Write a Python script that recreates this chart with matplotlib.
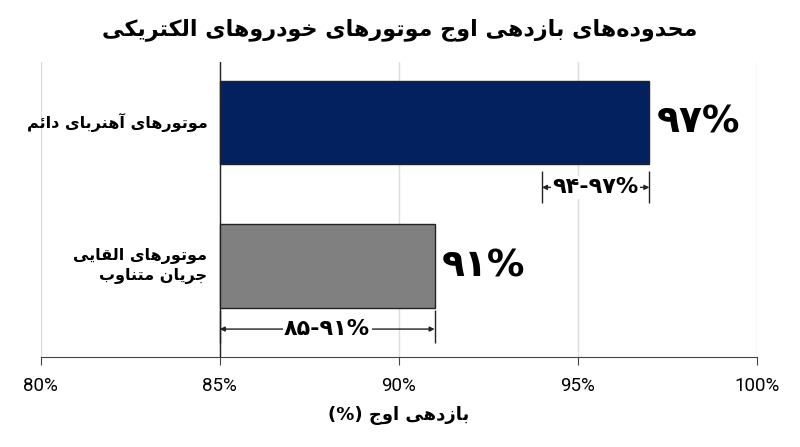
import numpy as np
import matplotlib
matplotlib.use('Agg')
import matplotlib.pyplot as plt

# data
categories = ['موتورهای آهنربای دائم', 'موتورهای القایی\nجریان متناوب']
peak_eff = [97, 91]
range_lo = [94, 85]
range_hi = [97, 91]
base = 85
bar_colors = ['#03215f', '#808080']
title = 'محدوده‌های بازدهی اوج موتورهای خودروهای الکتریکی'
xlabel = 'بازدهی اوج (%)'
xticks = [80, 85, 90, 95, 100]

# minimal arabic/persian shaping (no reshaper libs available)
FORMS = {
    'ا': (0xFE8D, 0xFE8E), 'آ': (0xFE81, 0xFE82),
    'ب': (0xFE8F, 0xFE90, 0xFE91, 0xFE92), 'ت': (0xFE95, 0xFE96, 0xFE97, 0xFE98),
    'ج': (0xFE9D, 0xFE9E, 0xFE9F, 0xFEA0), 'ح': (0xFEA1, 0xFEA2, 0xFEA3, 0xFEA4),
    'خ': (0xFEA5, 0xFEA6, 0xFEA7, 0xFEA8), 'د': (0xFEA9, 0xFEAA),
    'ر': (0xFEAD, 0xFEAE), 'ز': (0xFEAF, 0xFEB0),
    'ق': (0xFED5, 0xFED6, 0xFED7, 0xFED8), 'ل': (0xFEDD, 0xFEDE, 0xFEDF, 0xFEE0),
    'م': (0xFEE1, 0xFEE2, 0xFEE3, 0xFEE4), 'ن': (0xFEE5, 0xFEE6, 0xFEE7, 0xFEE8),
    'ه': (0xFEE9, 0xFEEA, 0xFEEB, 0xFEEC), 'و': (0xFEED, 0xFEEE),
    'ئ': (0xFE89, 0xFE8A, 0xFE8B, 0xFE8C), 'ی': (0xFBFC, 0xFBFD, 0xFBFE, 0xFBFF),
    'ک': (0xFB8E, 0xFB8F, 0xFB90, 0xFB91),
}
MIRROR = {'(': ')', ')': '('}


def shape_line(s):
    out = []
    for i, c in enumerate(s):
        if c not in FORMS:
            if c != '\u200c':
                out.append(c)
            continue
        f = FORMS[c]
        prev = s[i-1] if i > 0 else None
        nxt = s[i+1] if i + 1 < len(s) else None
        jp = prev in FORMS and len(FORMS[prev]) == 4
        jn = len(f) == 4 and nxt in FORMS
        if jp and jn:
            out.append(chr(f[3]))
        elif jp:
            out.append(chr(f[1]))
        elif jn:
            out.append(chr(f[2]))
        else:
            out.append(chr(f[0]))
    return ''.join(MIRROR.get(c, c) for c in reversed(out))


def fa(s):
    return '\n'.join(shape_line(l) for l in s.split('\n'))


def fa_num(s):
    return s.translate(str.maketrans('0123456789', '۰۱۲۳۴۵۶۷۸۹'))


ar_font = ['DejaVu Sans']

fig = plt.figure(figsize=(8, 4.47), dpi=100)
ax = fig.add_axes([0.051, 0.201, 0.895, 0.660])

ypos = np.array([1, 0])
widths = np.array(peak_eff) - base
ax.barh(ypos, widths, left=base, height=0.58, color=bar_colors,
        edgecolor='#222222', linewidth=1, zorder=3)

ax.set_xlim(80, 100)
ax.set_ylim(-0.636, 1.423)
ax.set_xticks(xticks)
ax.set_xticklabels([f'{t}%' for t in xticks], fontsize=13.5, family='Roboto')
ax.set_yticks([])
ax.grid(axis='x', color='#dddddd', linewidth=1, zorder=0)
ax.axvline(base, color='#222222', linewidth=1, zorder=2)
for sp in ['top', 'left', 'right']:
    ax.spines[sp].set_visible(False)
ax.spines['bottom'].set_color('#444444')
ax.tick_params(axis='x', length=6, color='#444444', pad=8)

# category labels
for y, cat in zip(ypos, categories):
    ax.text(84.65, y, fa(cat), ha='right', va='center', fontsize=11.5,
            fontweight='bold', family=ar_font, linespacing=1.35)

# peak value labels
for y, v in zip(ypos, peak_eff):
    ax.text(v + 0.2, y, fa_num(f'{v}%'), ha='left', va='center',
            fontsize=27, fontweight='bold', family=ar_font)

# range brackets
bracket = [(0.66, 0.44, 0.549), (-0.31, -0.54, -0.44)]
for (y0, y1, ya), lo, hi in zip(bracket, range_lo, range_hi):
    ax.vlines([lo, hi], y1, y0, color='#222222', linewidth=1, zorder=4)
    ax.annotate('', xy=(lo, ya), xytext=(hi, ya),
                arrowprops=dict(arrowstyle='<|-|>', color='#222222', lw=1,
                                mutation_scale=7, shrinkA=0, shrinkB=0), zorder=4)
    ax.text((lo + hi) / 2, ya, fa_num(f'{lo}-{hi}%'), ha='center', va='center',
            fontsize=16, fontweight='bold', family=ar_font, zorder=5,
            bbox=dict(facecolor='white', edgecolor='none', pad=1))

ax.set_xlabel(fa(xlabel), fontsize=13, fontweight='bold', family=ar_font, labelpad=8)
fig.text(0.5, 0.933, fa(title), ha='center', va='center', fontsize=16,
         fontweight='bold', family=ar_font)

fig.savefig('out.png', dpi=100)
